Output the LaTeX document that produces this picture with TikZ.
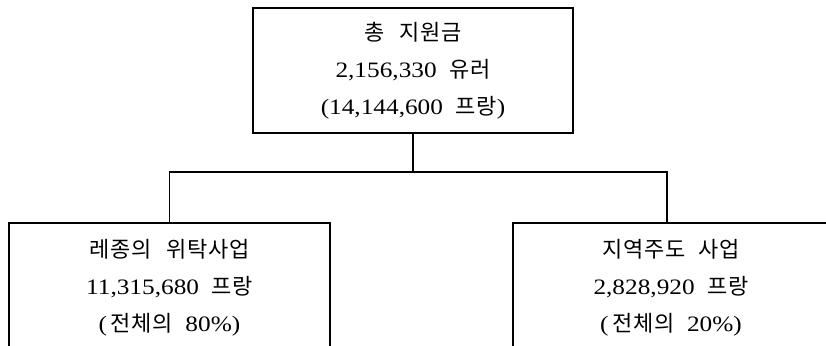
\documentclass[tikz,border=0pt]{standalone}
\usepackage{fontspec}
\setmainfont{Liberation Serif}[WordSpace=2.0, FakeStretch=1.15]
\newfontfamily\kr{Noto Sans CJK KR}[LetterSpace=3]
\newcommand\wgap{\hspace{0.12em}}
\begin{document}
\begin{tikzpicture}[x=1pt,y=-1pt,
  box/.style={draw, line width=1.2pt, rectangle, inner sep=0pt, align=center,
    font=\fontsize{22}{37}\selectfont},
  link/.style={line width=1.1pt}]
\useasboundingbox (0,0) rectangle (826,345);
\clip (0,0) rectangle (826,345);
\node[box, minimum width=320pt, minimum height=125pt] (total) at (413,70.5)
  {{\kr 총} \wgap{\kr 지원금}\\2,156,330 {\kr 유러}\\(14,144,600 {\kr 프랑})};
\node[box, minimum width=321pt, minimum height=130pt] (left) at (169.5,288)
  {{\kr 레종의} \wgap{\kr 위탁사업}\\11,315,680 {\kr 프랑}\\(\,{\kr 전체의} 80\%)};
\node[box, minimum width=316pt, minimum height=130pt] (right) at (671,288)
  {{\kr 지역주도} {\kr 사업}\\2,828,920 {\kr 프랑}\\(\,{\kr 전체의} 20\%)};
\coordinate (j) at (413,172);
\draw[link] (total.south) -- (j);
\draw[link] (left.north) |- (j) -| ([xshift=-4pt]right.north);
\end{tikzpicture}
\end{document}
